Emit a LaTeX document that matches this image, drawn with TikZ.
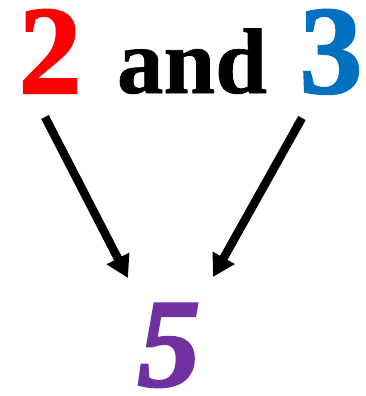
\documentclass[tikz,border=0pt]{standalone}
\usepackage{fontspec}
\setmainfont{Liberation Serif}
\newfontface\numbf{Liberation Serif Bold}[FakeBold=1.6]
\newfontface\numbfit{Liberation Serif Bold Italic}[FakeBold=1.8]
\newfontface\wordbf{Liberation Serif Bold}[FakeBold=0.8]
\usetikzlibrary{arrows.meta}
\definecolor{numred}{HTML}{FF0000}
\definecolor{numblue}{HTML}{0070C0}
\definecolor{numpurple}{HTML}{7030A0}
\tikzset{
  bignum/.style={inner sep=0pt, anchor=base, text height=86pt, text depth=0pt, font=\numbf\fontsize{126}{126}\selectfont},
  word/.style={inner sep=0pt, anchor=base, text height=64pt, text depth=0pt, font=\wordbf\fontsize{93}{93}\selectfont},
  arr/.style={line width=8.5pt, -{Triangle[length=22pt,width=24pt]}}
}
\begin{document}
\begin{tikzpicture}[x=1pt,y=-1pt]
\useasboundingbox (0,0) rectangle (366,396);
\node[bignum, text=numred] (two) at (50,93) {2};
\node[word] (and) at (192,93) {and};
\node[bignum, text=numblue] (three) at (331,93) {3};
\node[bignum, text=numpurple, font=\numbfit\fontsize{126}{126}\selectfont] (five) at (169,386) {5};
\coordinate (s1) at (45,117);
\coordinate (e1) at (128,278);
\coordinate (s2) at (302,118);
\coordinate (e2) at (213,277);
\draw[arr] (s1) -- (e1);
\draw[arr] (s2) -- (e2);
\end{tikzpicture}
\end{document}
